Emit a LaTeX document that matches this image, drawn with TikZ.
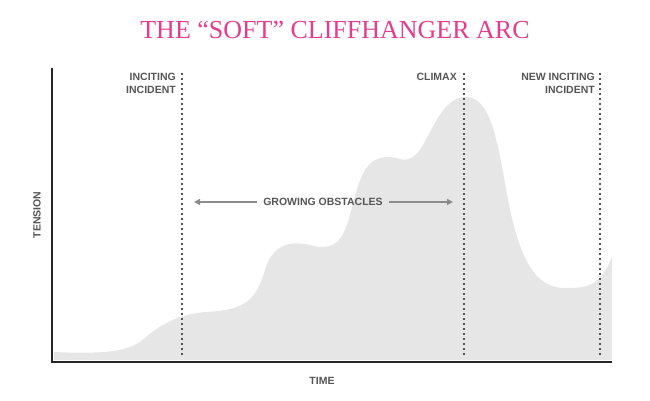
\documentclass[tikz,border=0pt]{standalone}
\usepackage{fontspec}
\setmainfont{Liberation Serif}
\setsansfont{Liberation Sans}
\usetikzlibrary{arrows.meta}
\definecolor{pinkt}{HTML}{E33D8E}
\definecolor{lab}{HTML}{555555}
\definecolor{fillg}{HTML}{E6E6E6}
\begin{document}
\begin{tikzpicture}[x=1pt,y=-1pt,
  lbl/.style={font=\sffamily\bfseries\fontsize{10.5}{13}\selectfont,text=lab,align=right,inner sep=0pt},
  vline/.style={line width=1.5pt,dash pattern=on 1.5pt off 3.5pt,color=lab}]
\useasboundingbox (0,0) rectangle (650,400);
\fill[fillg] (54,352) .. controls (100,354) and (125,352) .. (140,342)
  .. controls (160,325) and (175,315) .. (205,312)
  .. controls (240,310) and (255,305) .. (265,270)
  .. controls (272,245) and (290,240) .. (310,245)
  .. controls (335,252) and (343,240) .. (350,215)
  .. controls (360,175) and (365,160) .. (385,157)
  .. controls (400,155) and (405,168) .. (420,150)
  .. controls (435,125) and (445,95) .. (468,97)
  .. controls (492,100) and (498,145) .. (508,200)
  .. controls (520,260) and (535,288) .. (565,288)
  .. controls (590,288) and (600,285) .. (612,257)
  -- (612,360) -- (54,360) -- cycle;
\node[font=\fontsize{26}{30}\selectfont,text=pinkt] (title) at (335,30) {THE “SOFT” CLIFFHANGER ARC};
\coordinate (o) at (52,362);
\coordinate (yt) at (52,68);
\coordinate (xe) at (612,362);
\draw[line width=2pt,color=black!85] (yt) -- (o) -- (xe);
\coordinate (a1) at (182,73); \coordinate (a2) at (182,358);
\coordinate (b1) at (464,73); \coordinate (b2) at (464,358);
\coordinate (c1) at (600,73); \coordinate (c2) at (600,358);
\draw[vline] (a1) -- (a2);
\draw[vline] (b1) -- (b2);
\draw[vline] (c1) -- (c2);
\node[lbl,anchor=north east] (inc) at (176,73) {INCITING\\INCIDENT};
\node[lbl,anchor=north east] (cli) at (457,73) {CLIMAX};
\node[lbl,anchor=north east] (ninc) at (595,73) {NEW INCITING\\INCIDENT};
\node[lbl] (grow) at (323,202) {GROWING OBSTACLES};
\coordinate (gl) at (194,202); \coordinate (gr) at (453,202);
\draw[-{Triangle[length=6pt,width=6pt]},line width=1.4pt,color=black!45] (grow.west) ++(-6,0) -- (gl);
\draw[-{Triangle[length=6pt,width=6pt]},line width=1.4pt,color=black!45] (grow.east) ++(6,0) -- (gr);
\node[lbl,rotate=90] (ten) at (37,215) {TENSION};
\node[lbl] (time) at (322,381) {TIME};
\end{tikzpicture}
\end{document}
